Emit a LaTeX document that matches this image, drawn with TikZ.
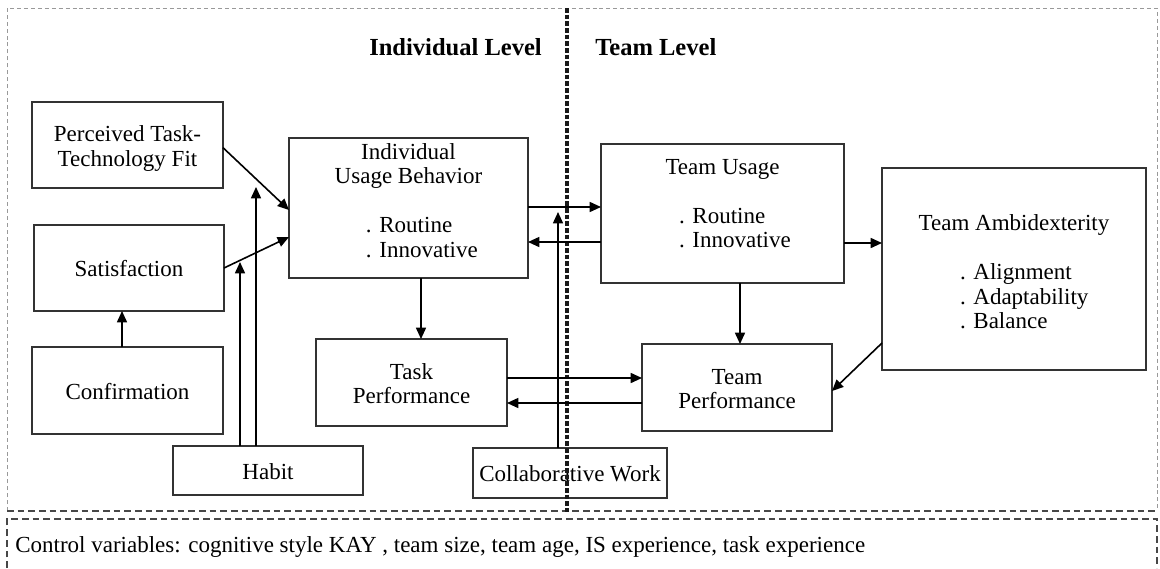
\documentclass[tikz,border=0pt]{standalone}
\usepackage{fontspec}
\setmainfont{Liberation Serif}
\usetikzlibrary{arrows.meta}

% multi-line box text, vertically centred on the node centre (optional extra raise)
\newcommand\boxlines[2][0pt]{\raisebox{\dimexpr#1-7.3pt\relax}[0pt][0pt]{\begin{tabular}{@{}c@{}}#2\end{tabular}}}
% bullet item starting at a fixed offset from the box centre
\newcommand\bul[2]{\makebox[0pt][l]{\hspace*{#1}. #2}}

\begin{document}
\begin{tikzpicture}[x=0.75pt,y=-0.75pt,
  box/.style={draw=black!80, line width=1.1pt, inner sep=0pt, outer sep=0pt,
    font=\fontsize{17.25}{18.4}\selectfont, text=black},
  conn/.style={line width=1.2pt, draw=black, -{Triangle[length=8.5pt,width=7.5pt]}},
  head/.style={font=\bfseries\fontsize{18.4}{20}\selectfont, text=black, inner sep=0pt},
  frame/.style={draw=black!40, line width=0.6pt, dash pattern=on 3pt off 2.2pt},
  sep/.style={draw=black!72, line width=1pt, dash pattern=on 5pt off 3pt},
  divider/.style={draw=black!90, line width=2.4pt, dash pattern=on 3.5pt off 1.5pt}]
\useasboundingbox (0,0) rectangle (1160,568);

% dashed frames of the model area and the control-variable strip
\draw[frame] (7,511) -- (7,8) -- (1157,8) -- (1157,511);
\draw[sep] (7,511) -- (1157,511);
\draw[sep] (7,568) -- (7,519) -- (1157,519) -- (1157,568);

% level headings
\node[head, anchor=east] (indlev) at (542,47) {Individual Level};
\node[head, anchor=west] (teamlev) at (595,47) {Team Level};

% individual level constructs
\node[box, minimum width=143.25pt, minimum height=64.5pt] (pttf) at (127.5,145)
  {\boxlines{Perceived Task-\\Technology Fit}};
\node[box, minimum width=142.5pt, minimum height=64.5pt] (sat) at (129,268)
  {\boxlines{Satisfaction}};
\node[box, minimum width=143.25pt, minimum height=65.25pt] (conf) at (127.5,390.5)
  {\boxlines{Confirmation}};
\node[box, minimum width=179.25pt, minimum height=105pt] (iub) at (408.5,208)
  {\boxlines[6.4pt]{Individual\\Usage Behavior\\ \\ \bul{-31.9pt}{Routine}\\ \bul{-31.9pt}{Innovative}}};
\node[box, minimum width=143.25pt, minimum height=65.25pt] (tp) at (411.5,382.5)
  {\boxlines{Task\\Performance}};
\node[box, minimum width=142.5pt, minimum height=36.75pt] (habit) at (268,470.5)
  {\boxlines{Habit}};
\node[box, minimum width=145.5pt, minimum height=37.5pt] (cw) at (570,473)
  {\boxlines{Collaborative Work}};

% team level constructs
\node[box, minimum width=182.25pt, minimum height=104.25pt] (tu) at (722.5,213.5)
  {\boxlines[8.6pt]{Team Usage\\ \\ \bul{-32.6pt}{Routine}\\ \bul{-32.6pt}{Innovative}}};
\node[box, minimum width=198pt, minimum height=151.5pt] (ta) at (1014,269)
  {\boxlines[-1.5pt]{Team Ambidexterity\\ \\ \bul{-40.5pt}{Alignment}\\ \bul{-40.5pt}{Adaptability}\\ \bul{-40.5pt}{Balance}}};
\node[box, minimum width=142.5pt, minimum height=65.25pt] (tperf) at (737,387.5)
  {\boxlines{Team\\Performance}};

% level divider
\draw[divider] (567,8) -- (567,512);

% helper positions for the connectors
\coordinate (cx) at (122,0);
\coordinate (h1) at (240,262);
\coordinate (h2) at (256,187);
\coordinate (r1) at (0,207);
\coordinate (r2) at (0,242);
\coordinate (cwtip) at (558,212);
\coordinate (c1) at (421,0);
\coordinate (c2) at (740,0);
\coordinate (r3) at (0,243);
\coordinate (r4) at (0,343);
\coordinate (r5) at (0,391);
\coordinate (r6) at (0,378);
\coordinate (r7) at (0,403);

% connectors
\draw[conn] ([yshift=-2pt]pttf.east) -- ([yshift=-1.5pt]iub.west);
\draw[conn] (sat.east) -- ([yshift=-21.75pt]iub.west);
\draw[conn] (conf.north -| cx) -- (sat.south -| cx);
\draw[conn] (habit.north -| h1) -- (h1);
\draw[conn] (habit.north -| h2) -- (h2);
\draw[conn] (iub.east |- r1) -- (tu.west |- r1);
\draw[conn] (tu.west |- r2) -- (iub.east |- r2);
\draw[conn] (cw.north -| cwtip) -- (cwtip);
\draw[conn] (iub.south -| c1) -- (tp.north -| c1);
\draw[conn] (tu.south -| c2) -- (tperf.north -| c2);
\draw[conn] (tu.east |- r3) -- (ta.west |- r3);
\draw[conn] (ta.west |- r4) -- (tperf.east |- r5);
\draw[conn] (tp.east |- r6) -- (tperf.west |- r6);
\draw[conn] (tperf.west |- r7) -- (tp.east |- r7);

% control variables
\node[anchor=west, inner sep=0pt, font=\fontsize{17.25}{18.4}\selectfont, text=black] (ctrl) at (15,547)
  {Control variables: cognitive style KAY , team size, team age, IS experience, task experience};
\end{tikzpicture}
\end{document}
